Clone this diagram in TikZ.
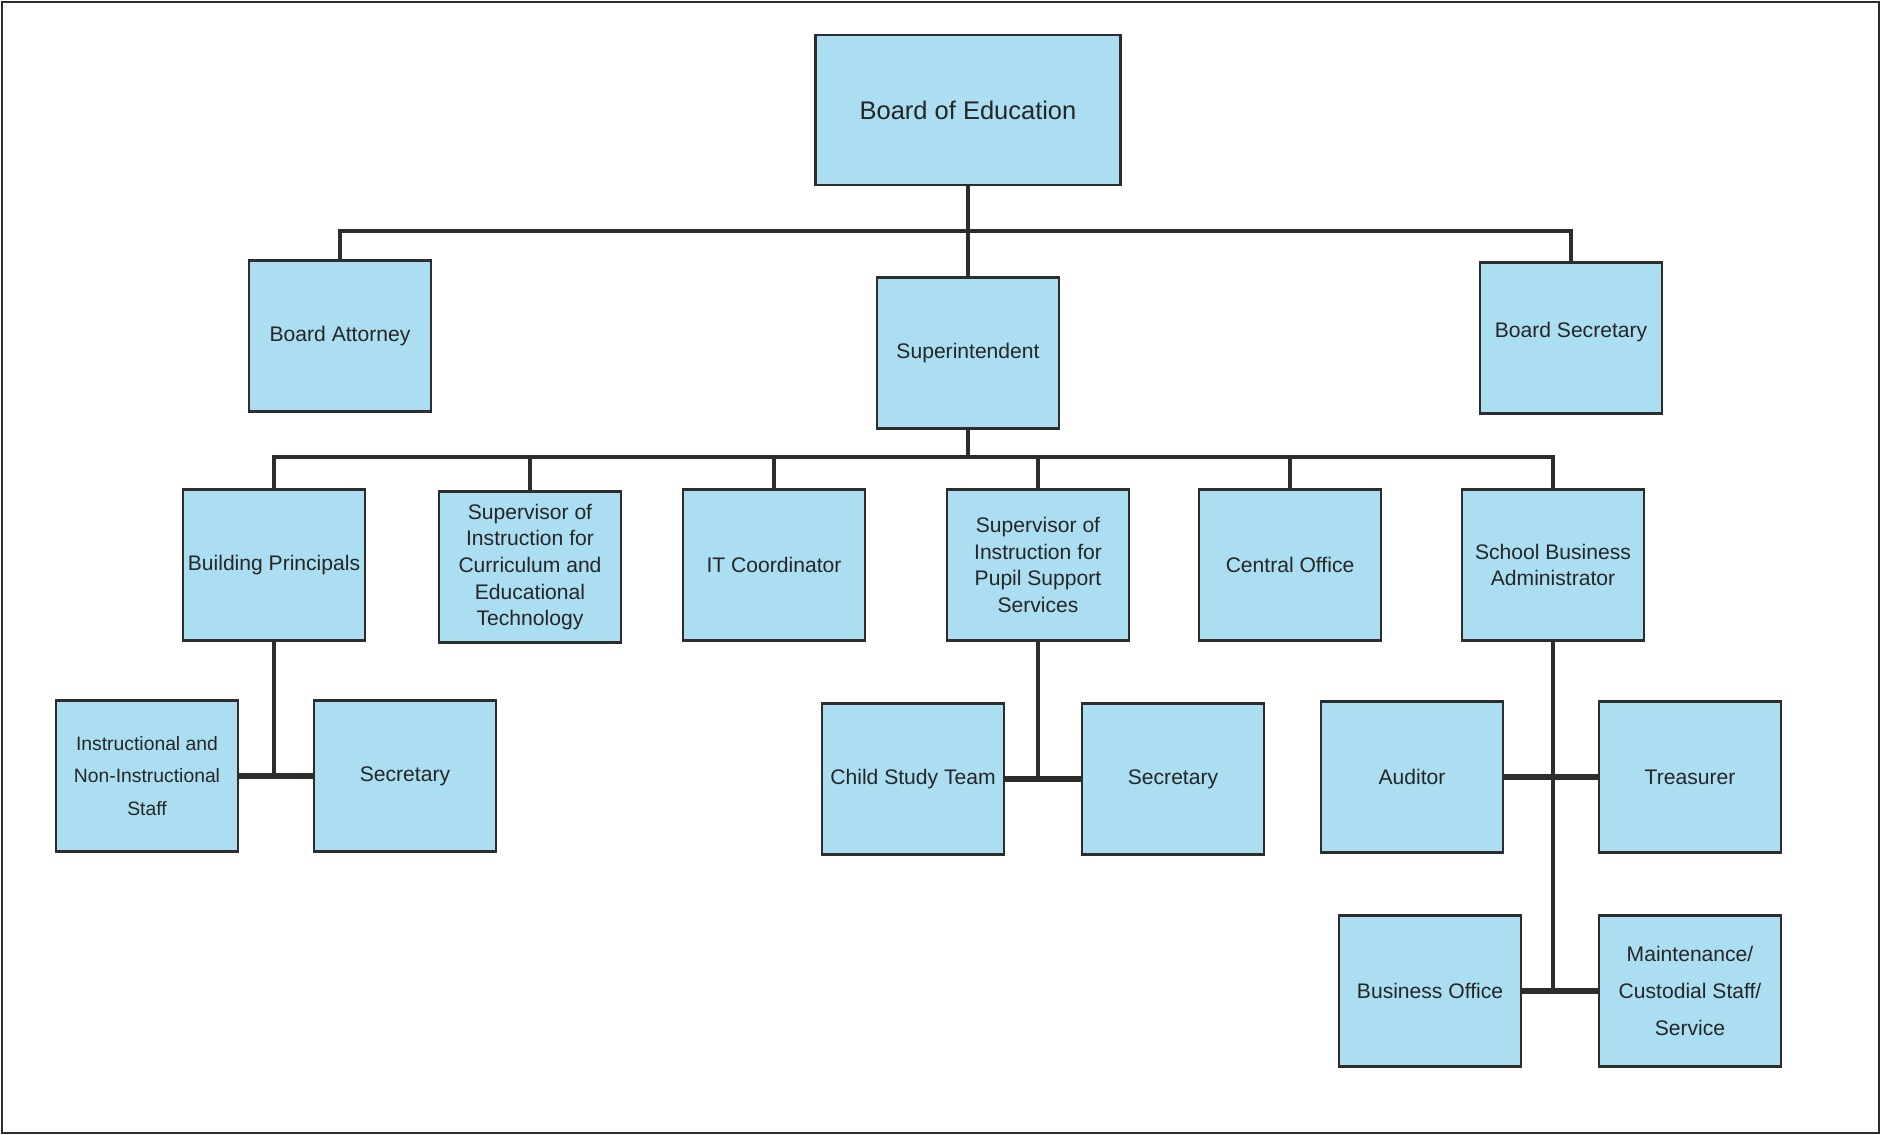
\documentclass[tikz,border=0pt]{standalone}
\usepackage{fontspec}
\setmainfont{Liberation Sans}
\definecolor{boxBlue}{RGB}{170,222,240}
\definecolor{lineGray}{RGB}{45,45,45}

\begin{document}
\begin{tikzpicture}[
    % Style for the light blue boxes of the chart
    orgBox/.style={
        rectangle,
        draw=lineGray,
        fill=boxBlue,
        line width=1.6pt,
        inner sep=0pt,
        minimum width=3.64cm,
        minimum height=3.02cm,
        align=center,
        text=black!85,
        font=\fontsize{12}{15.2}\selectfont
    },
    % Wider box at the top
    topBox/.style={
        orgBox,
        minimum width=6.1cm,
        minimum height=3cm,
        font=\fontsize{14.5}{17}\selectfont
    },
    % Style for the tree lines
    treeLine/.style={
        draw=lineGray,
        line width=2.2pt
    },
    % Style for the short joins between two boxes
    joinLine/.style={
        draw=lineGray,
        line width=3.4pt
    }
]

    % --- PAGE ---
    \useasboundingbox (0,0) rectangle (37.62,22.7);
    \draw[lineGray, line width=1pt] (0.04,0.04) rectangle (37.58,22.66);

    % --- TOP LEVEL ---
    \node[topBox] (boe) at (19.36,20.5) {Board of Education};
    \node[orgBox] (attorney) at (6.8,15.98) {Board Attorney};
    \node[orgBox] (supt) at (19.36,15.64) {Superintendent};
    \node[orgBox] (bsec) at (31.42,15.94) {\raisebox{0.32cm}{Board Secretary}};
    \coordinate (bar1) at (19.36,18.08);

    % --- SECOND LEVEL ---
    \node[orgBox] (bldg) at (5.48,11.4) {Building Principals};
    \node[orgBox] (supcur) at (10.6,11.36) {Supervisor of\\Instruction for\\Curriculum and\\Educational\\Technology};
    \node[orgBox] (itc) at (15.48,11.4) {IT Coordinator};
    \node[orgBox] (suppup) at (20.76,11.4) {Supervisor of\\Instruction for\\Pupil Support\\Services};
    \node[orgBox] (central) at (25.8,11.4) {Central Office};
    \node[orgBox] (sba) at (31.06,11.4) {School Business\\Administrator};
    \coordinate (bar2) at (19.36,13.56);

    % --- THIRD LEVEL ---
    \node[orgBox, font=\fontsize{11}{18.7}\selectfont] (instr) at (2.94,7.18) {Instructional and\\Non-Instructional\\Staff};
    \node[orgBox] (sec1) at (8.1,7.18) {Secretary};
    \node[orgBox] (cst) at (18.26,7.12) {Child Study Team};
    \node[orgBox] (sec2) at (23.46,7.12) {Secretary};
    \node[orgBox] (aud) at (28.24,7.16) {Auditor};
    \node[orgBox] (treas) at (33.8,7.16) {Treasurer};
    \node[orgBox] (bo) at (28.6,2.88) {Business Office};
    \node[orgBox, font=\fontsize{12}{20.8}\selectfont] (maint) at (33.8,2.88) {Maintenance/\\Custodial Staff/\\Service};

    % --- LINES ---
    \draw[treeLine] (boe.south) -- (supt.north);
    \draw[treeLine] (attorney.north) |- (bar1) -| (bsec.north);
    \draw[treeLine] (supt.south) -- (bar2);
    \foreach \child in {bldg,supcur,itc,suppup,central,sba}
        \draw[treeLine] (bar2) -| (\child.north);

    \draw[treeLine] (bldg.south) -- (bldg.south |- instr.east);
    \draw[joinLine] (instr.east) -- (sec1.west);

    \draw[treeLine] (suppup.south) -- (suppup.south |- cst.east);
    \draw[joinLine] (cst.east) -- (sec2.west);

    \draw[treeLine] (sba.south) -- (sba.south |- bo.east);
    \draw[joinLine] (aud.east) -- (treas.west);
    \draw[joinLine] (bo.east) -- (maint.west);

\end{tikzpicture}
\end{document}
